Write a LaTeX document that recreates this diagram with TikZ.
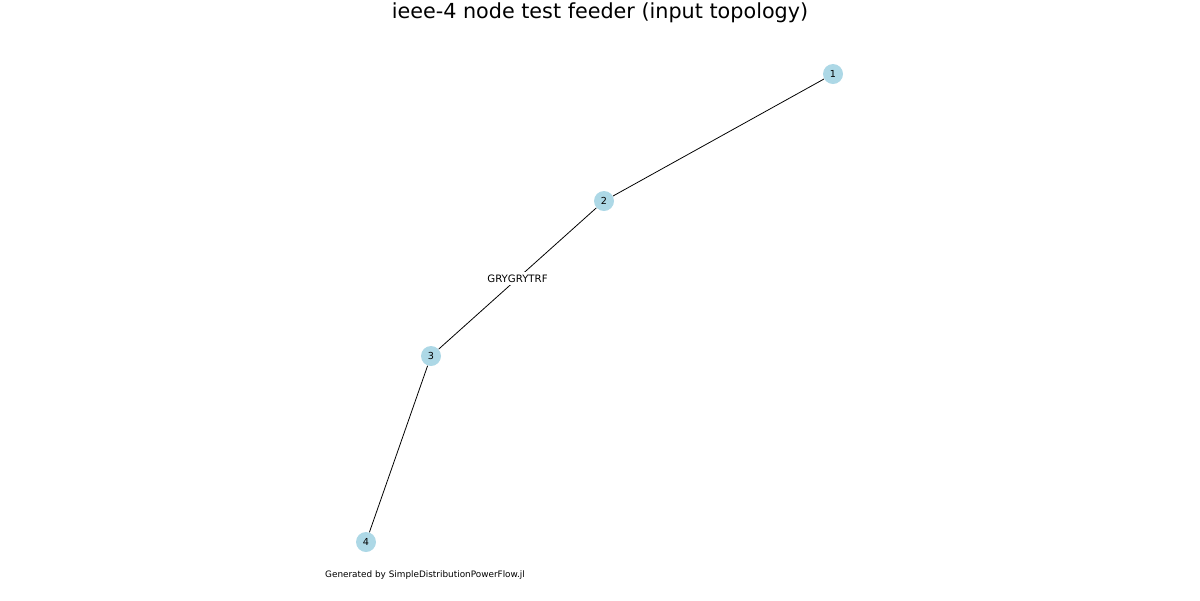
\documentclass[tikz,border=0pt]{standalone}
\usepackage{fontspec}
\setmainfont{DejaVu Sans}
\usepackage{xcolor}
\definecolor{busblue}{RGB}{173,216,230}
\tikzstyle{bus} = [circle, fill=busblue, minimum size=0.4cm, inner sep=0pt, font=\fontsize{5.5}{6}\selectfont]
\tikzstyle{line} = [draw=black, line width=0.45pt]

\begin{document}
\begin{tikzpicture}[x=0.02cm, y=-0.02cm]
		\useasboundingbox (0,0) rectangle (1200,600);
		\node (title) at (600,13) {\fontsize{11.8}{13}\selectfont ieee-4 node test feeder (input topology)};
		\node (b1) [bus] at (833,74) {1};
		\node (b2) [bus] at (604,201) {2};
		\node (b3) [bus] at (431,356) {3};
		\node (b4) [bus] at (366,542) {4};
		
		\draw [line] (b1) -- (b2);
		\draw [line] (b2) -- node (trf) [fill=white, inner sep=1.5pt, font=\fontsize{5.8}{6}\selectfont] {GRYGRYTRF} (b3);
		\draw [line] (b3) -- (b4);
		
		\node (footer) at (425,575) {\fontsize{5.05}{6}\selectfont Generated by SimpleDistributionPowerFlow.jl};
	\end{tikzpicture}
\end{document}
